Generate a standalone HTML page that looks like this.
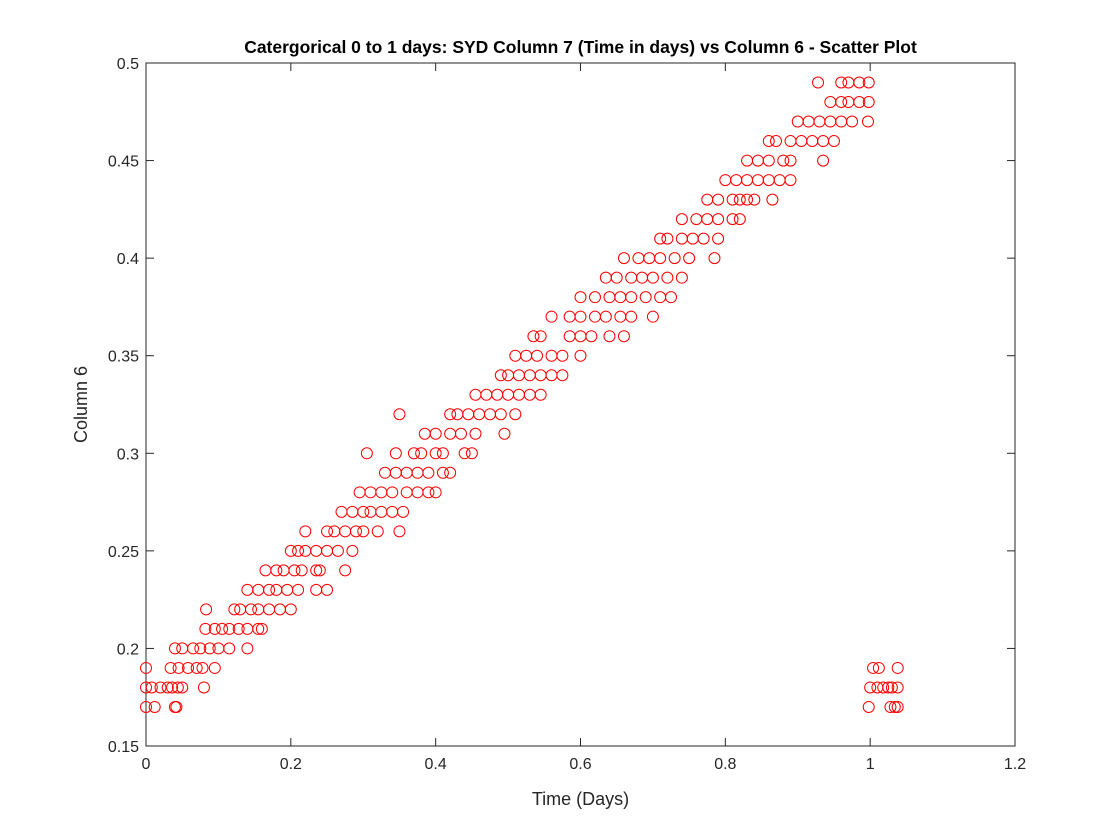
<!DOCTYPE html>
<html><head><meta charset="utf-8"><style>
body{margin:0;background:#fff;}
svg{display:block;font-family:"Liberation Sans",sans-serif;}
</style></head><body>
<svg id="chart" width="1120" height="840"></svg>
<script>
const levels=[0.17,0.18,0.19,0.20,0.21,0.22,0.23,0.24,0.25,0.26,0.27,0.28,0.29,0.30,0.31,0.32,0.33,0.34,0.35,0.36,0.37,0.38,0.39,0.40,0.41,0.42,0.43,0.44,0.45,0.46,0.47,0.48,0.49];
const xsByLevel=[
[0,0.012,0.04,0.042,0.998,1.028,1.034,1.038],
[0,0.008,0.02,0.03,0.036,0.044,0.05,0.08,1.0,1.01,1.018,1.025,1.03,1.038],
[0,0.034,0.045,0.058,0.07,0.078,0.095,1.004,1.012,1.038],
[0.04,0.05,0.065,0.075,0.088,0.1,0.115,0.14],
[0.082,0.095,0.105,0.115,0.128,0.14,0.155,0.16],
[0.083,0.122,0.13,0.145,0.155,0.17,0.185,0.2],
[0.14,0.155,0.17,0.18,0.195,0.21,0.235,0.25],
[0.165,0.18,0.19,0.205,0.215,0.235,0.24,0.275],
[0.2,0.21,0.22,0.235,0.25,0.265,0.285],
[0.22,0.25,0.26,0.275,0.29,0.3,0.32,0.35],
[0.27,0.285,0.3,0.31,0.325,0.34,0.355],
[0.295,0.31,0.325,0.34,0.36,0.375,0.39,0.4],
[0.33,0.345,0.36,0.375,0.39,0.41,0.42],
[0.305,0.345,0.37,0.38,0.4,0.41,0.44,0.45],
[0.385,0.4,0.42,0.435,0.455,0.495],
[0.35,0.42,0.43,0.445,0.46,0.475,0.49,0.51],
[0.455,0.47,0.485,0.5,0.515,0.53,0.545],
[0.49,0.5,0.515,0.53,0.545,0.56,0.575],
[0.51,0.525,0.54,0.56,0.575,0.6],
[0.535,0.545,0.585,0.6,0.615,0.64,0.66],
[0.56,0.585,0.6,0.62,0.635,0.655,0.67,0.7],
[0.6,0.62,0.64,0.655,0.67,0.69,0.71,0.725],
[0.635,0.65,0.67,0.685,0.7,0.72,0.74],
[0.66,0.68,0.695,0.71,0.73,0.75,0.785],
[0.71,0.72,0.74,0.755,0.77,0.79],
[0.74,0.76,0.775,0.79,0.81,0.82],
[0.775,0.79,0.81,0.82,0.83,0.84,0.865],
[0.8,0.815,0.83,0.845,0.86,0.875,0.89],
[0.83,0.845,0.86,0.88,0.89,0.935],
[0.86,0.87,0.89,0.905,0.92,0.935,0.95],
[0.9,0.915,0.93,0.945,0.96,0.975,0.997],
[0.945,0.96,0.97,0.985,0.998],
[0.928,0.96,0.97,0.985,0.998]
];
const xTicks=[0,0.2,0.4,0.6,0.8,1,1.2];
const xTickLabels=["0","0.2","0.4","0.6","0.8","1","1.2"];
const yTicks=[0.15,0.2,0.25,0.3,0.35,0.4,0.45,0.5];
const yTickLabels=["0.15","0.2","0.25","0.3","0.35","0.4","0.45","0.5"];

const L=146,R=1015,T=63,B=746;
const sx=v=>L+(v-0)/(1.2-0)*(R-L);
const sy=v=>B-(v-0.15)/(0.5-0.15)*(B-T);
const NS="http://www.w3.org/2000/svg";
const svg=document.getElementById('chart');
function mk(tag,attrs,parent){const e=document.createElementNS(NS,tag);for(const k in attrs)e.setAttribute(k,attrs[k]);(parent||svg).appendChild(e);return e;}

const box=mk('rect',{x:L,y:T,width:R-L,height:B-T,fill:'#fff',stroke:'#262626','stroke-width':1});



const pts=mk('g',{});


levels.forEach((lv,i)=>{xsByLevel[i].forEach(xv=>{
  const c=mk('circle',{cx:sx(xv),cy:sy(lv),r:5.5,fill:'none',stroke:'#ff0000','stroke-width':1},pts);
  
  
});});

xTicks.forEach((t,i)=>{
  const x=sx(t);
  mk('line',{x1:x,y1:B,x2:x,y2:B-8,stroke:'#262626'});
  mk('line',{x1:x,y1:T,x2:x,y2:T+8,stroke:'#262626'});
  const tx=mk('text',{x:x,y:B+23,'text-anchor':'middle','font-size':16,fill:'#262626'});
  tx.textContent=xTickLabels[i];
  
  
});
yTicks.forEach((t,i)=>{
  const y=sy(t);
  mk('line',{x1:L,y1:y,x2:L+8,y2:y,stroke:'#262626'});
  mk('line',{x1:R,y1:y,x2:R-8,y2:y,stroke:'#262626'});
  const ty=mk('text',{x:L-7,y:y+6,'text-anchor':'end','font-size':16,fill:'#262626'});
  ty.textContent=yTickLabels[i];
  
  
});

const title=mk('text',{x:(L+R)/2,y:53,'text-anchor':'middle','font-size':17.5,'font-weight':'bold',fill:'#000'});
title.textContent='Catergorical 0 to 1 days: SYD Column 7 (Time in days) vs Column 6 - Scatter Plot';



const xl=mk('text',{x:(L+R)/2,y:805,'text-anchor':'middle','font-size':18,fill:'#262626'});
xl.textContent='Time (Days)';



const yl=mk('text',{x:87,y:(T+B)/2,'text-anchor':'middle','font-size':18,fill:'#262626',transform:'rotate(-90 87 '+((T+B)/2)+')'});
yl.textContent='Column 6';


</script>
</body></html>
